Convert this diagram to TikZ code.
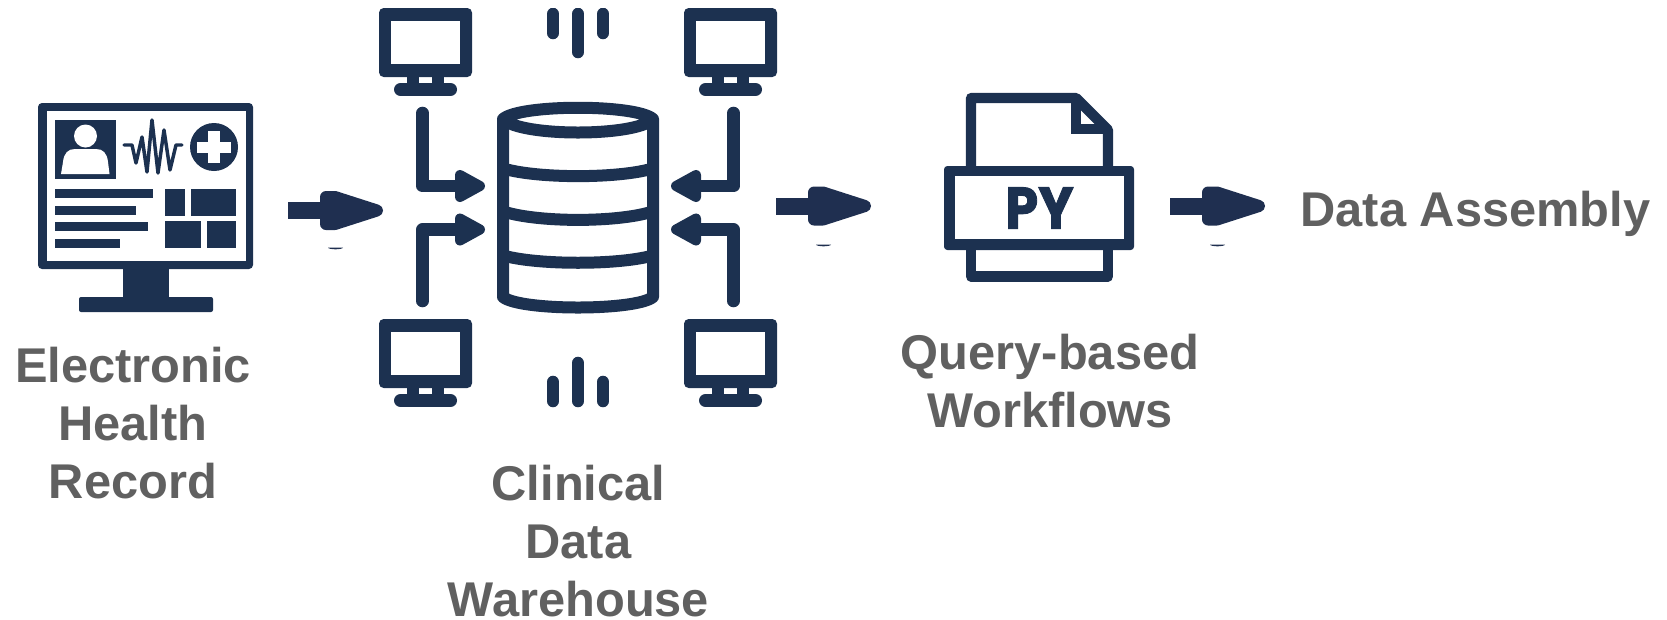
\documentclass[tikz,border=0pt]{standalone}
\usepackage{fontspec}
\setmainfont{Liberation Sans}
\newfontfamily\pyfont{Poppins}[BoldFont={* Bold},BoldFeatures={FakeBold=1.5}]
\definecolor{navy}{HTML}{1C3150}
\definecolor{arrownavy}{HTML}{1F2F50}
\definecolor{labelgrey}{HTML}{606060}
\tikzset{
  x=0.75pt,y=-0.75pt,
  rl/.style={draw=navy,line width=9.4pt,line cap=round,line join=round},
  cyl/.style={draw=navy,line width=9pt,line join=round},
  filestroke/.style={draw=navy,line width=7.7pt,line join=round},
  headshape/.style={fill=navy,draw=navy,line width=7.5pt,line join=round},
  lbl/.style={text=labelgrey,font=\bfseries\fontsize{36.6pt}{43.5pt}\selectfont,align=center,inner sep=0pt}
}
\newcommand{\screenicon}[2]{%
 \begin{scope}[shift={(#1,#2)}]
 \fill[navy,rounded corners=3.5pt] (0,0) rectangle (93,69);
 \fill[white] (12,13) rectangle (81,56);
 \fill[navy] (28,68) rectangle (40,77);
 \fill[navy] (53,68) rectangle (65,77);
 \draw[draw=navy,line width=9.75pt,line cap=round] (21.5,81.5) -- (71.5,81.5);
 \end{scope}}
\newcommand{\fatarrow}[3]{%
 \fill[arrownavy] (#1,#2-8.5) rectangle (#1+36,#2+8.5);
 \filldraw[fill=arrownavy,draw=arrownavy,line width=9pt,line join=round] (#1+38,#2-13.5) -- (#1+47,#2-13.5) -- (#1+89,#2) -- (#1+47,#2+13.5) -- (#1+38,#2+13.5) -- cycle;
 \fill[arrownavy] (#1+55,#3+1.5) arc[start angle=0,end angle=180,x radius=7.5,y radius=1.8] -- cycle;}
\begin{document}
\begin{tikzpicture}
\useasboundingbox (0,0) rectangle (1667,619);
% EHR monitor
\fill[navy,rounded corners=3pt] (38,103) rectangle (253,269);
\fill[white] (47,111) rectangle (246,261);
\fill[navy] (123,268) rectangle (169,298);
\fill[navy,rounded corners=1.5pt] (79,297) rectangle (213,312);
\fill[navy] (55,120) rectangle (116,179);
\fill[white] (85.5,136) circle[radius=11.5];
\fill[white] (61,174) -- (63,162) .. controls (64,153) and (68,149) .. (75,149) -- (96,149) .. controls (103,149) and (107,153) .. (108,162) -- (109.5,174) -- cycle;
\draw[draw=navy,line width=2.6pt,line join=round,line cap=round] (124,145) -- (132,145) -- (136,163) -- (142,137) -- (147,172) -- (152,120) -- (158,173) -- (164,130) -- (170,170) -- (176,145) -- (182,145);
\fill[navy] (214,147) circle[radius=24];
\fill[white] (208,131) rectangle (219.5,163);
\fill[white] (197,142) rectangle (231,152.5);
\fill[navy] (55,189) rectangle (153,198);
\fill[navy] (55,206) rectangle (136,215);
\fill[navy] (55,222) rectangle (148,231);
\fill[navy] (55,239) rectangle (120,248);
\fill[navy] (165,189) rectangle (185,216);
\fill[navy] (191,189) rectangle (236,216);
\fill[navy] (165,221) rectangle (201,248);
\fill[navy] (207,221) rectangle (236,248);
% block arrows
\fatarrow{288}{210.5}{246}
\fatarrow{776}{206}{243}
\fatarrow{1170}{206}{243}
% screens and signal bars, cropped as in the picture
\begin{scope}
\clip (0,8) rectangle (1667,407);
\screenicon{379}{8}
\screenicon{684}{8}
\screenicon{379}{319}
\screenicon{684}{319}
\draw[rl] (553,14) -- (553,33);
\draw[rl] (578,14) -- (578,52);
\draw[rl] (603,14) -- (603,33);
\draw[rl] (553,382) -- (553,401);
\draw[rl] (578,363) -- (578,401);
\draw[rl] (603,382) -- (603,401);
\end{scope}
% cylinder
\draw[cyl] (503,119) -- (503,297) .. controls (520,311) and (636,311) .. (653,297) -- (653,119);
\draw[cyl] (503,119) .. controls (520,104) and (636,104) .. (653,119) .. controls (636,137) and (520,137) .. (503,119) -- cycle;
\draw[cyl] (505,169) .. controls (540,178.5) and (616,178.5) .. (651,169);
\draw[cyl] (505,212) .. controls (540,222.5) and (616,222.5) .. (651,212);
\draw[cyl] (505,256) .. controls (540,265) and (616,265) .. (651,256);
% connectors
\draw[rl] (422.5,113) -- (422.5,186) -- (462,186);
\draw[rl] (422.5,301) -- (422.5,229.5) -- (462,229.5);
\draw[rl] (733.5,113) -- (733.5,186) -- (694,186);
\draw[rl] (733.5,301) -- (733.5,229.5) -- (694,229.5);
\foreach \yy in {186,229.5}{
 \filldraw[headshape] (460,\yy-11) -- (480,\yy) -- (460,\yy+11) -- cycle;
 \filldraw[headshape] (696,\yy-11) -- (676,\yy) -- (696,\yy+11) -- cycle;
}
% file
\draw[filestroke] (971,170) -- (971,98) -- (1076,98) -- (1108,130) -- (1108,170);
\draw[filestroke,line join=miter] (1076,98) -- (1076,129) -- (1108,129);
\fill[navy,rounded corners=2.5pt] (944,166) rectangle (1134,250);
\fill[white] (955,176) rectangle (1124,239);
\draw[filestroke] (971,248) -- (971,276.5) -- (1108,276.5) -- (1108,248);
\node[inner sep=0pt,text=navy] (py) at (1039.5,208) {\scalebox{0.9}[1]{\pyfont\bfseries\fontsize{44pt}{44pt}\selectfont PY}};
% labels
\node[lbl] (ehr) at (133,423.5) {Electronic\\Health\\Record};
\node[lbl] (cdw) at (578.5,541.5) {Clinical\\Data\\Warehouse};
\node[lbl] (qbw) at (1050,381.5) {Query-based\\Workflows};
\node[lbl,anchor=base] (da) at (1475.5,226) {Data Assembly};
\end{tikzpicture}
\end{document}
